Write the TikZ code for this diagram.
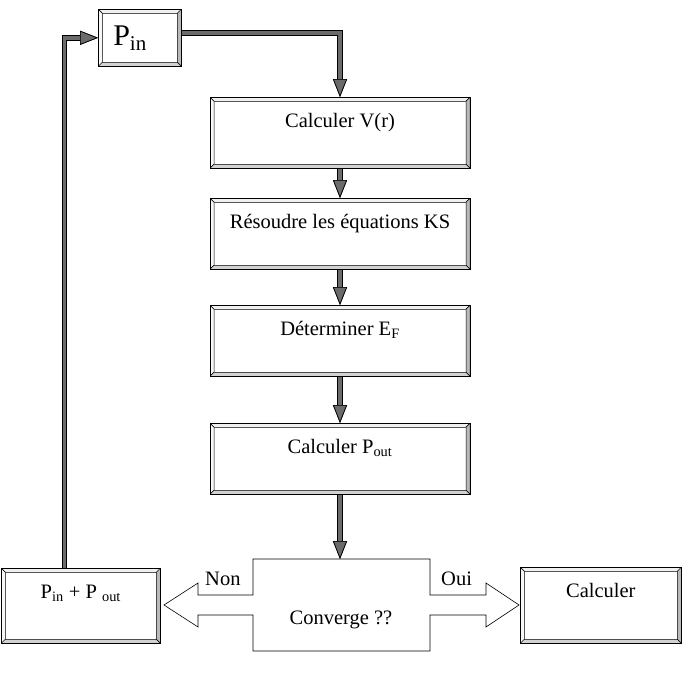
\documentclass[tikz,border=0pt]{standalone}
\usepackage{fontspec}
\setmainfont{Liberation Serif}
\usetikzlibrary{arrows.meta,calc,positioning}
\definecolor{shaftgray}{gray}{0.42}
\tikzset{
  fathead/.tip={Triangle[width=14pt,length=18pt,line width=0.7pt,color=black,fill=shaftgray]},
  fatarrow/.style={draw=shaftgray, line width=3.8pt, -{fathead},
    preaction={draw=black, line width=5.6pt, -{fathead}}},
  bevelbox/.style={draw, line width=0.6pt, fill=white,
    font=\fontsize{20.5}{24}\selectfont,
    path picture={
      \coordinate (nw) at (path picture bounding box.north west);
      \coordinate (ne) at (path picture bounding box.north east);
      \coordinate (sw) at (path picture bounding box.south west);
      \coordinate (se) at (path picture bounding box.south east);
      \filldraw[line width=0.5pt, fill=gray!12] (nw) -- (ne) -- ($(ne)+(-4pt,-4pt)$) -- ($(nw)+(4pt,-4pt)$) -- cycle;
      \filldraw[line width=0.5pt, fill=gray!6] (nw) -- (sw) -- ($(sw)+(4pt,4pt)$) -- ($(nw)+(4pt,-4pt)$) -- cycle;
      \filldraw[line width=0.5pt, fill=gray!55] (ne) -- (se) -- ($(se)+(-4pt,4pt)$) -- ($(ne)+(-4pt,-4pt)$) -- cycle;
      \filldraw[line width=0.5pt, fill=gray!35] (sw) -- (se) -- ($(se)+(-4pt,4pt)$) -- ($(sw)+(4pt,4pt)$) -- cycle;
    }},
  stepbox/.style={bevelbox, anchor=north, minimum width=260pt, inner sep=0pt,
    text height=30pt, text depth=41pt},
  endbox/.style={bevelbox, anchor=north west, inner sep=0pt, text height=30pt}
}
\begin{document}
\begin{tikzpicture}[x=1pt, y=-1pt]
  \useasboundingbox (0,0) rectangle (694,673);
  % input density
  \node[bevelbox, anchor=north west, inner xsep=15pt, inner ysep=0pt, text width=53pt,
        text height=36pt, text depth=21pt, align=left] (pin) at (98,9)
        {\fontsize{30}{32}\selectfont P\textsubscript{in}};
  % SCF steps
  \node[stepbox] (vr) at (340,97) {Calculer V(r)};
  \node[stepbox] (ks) at (340,198) {Résoudre les équations KS};
  \node[stepbox] (ef) at (340,305) {Déterminer E\textsubscript{F}};
  \node[stepbox] (pout) at (340,423) {Calculer P\textsubscript{out}};
  % mixing and end
  \node[endbox, minimum width=159pt, text depth=45pt] (pp) at (1,568)
        {P\textsubscript{in} + P \textsubscript{out}};
  \node[endbox, minimum width=161pt, text depth=46pt] (calc) at (520,567) {Calculer};
  % convergence test
  \draw[line width=0.6pt] (253,559) -- (430,559) -- (430,595) -- (486,595) -- (486,583)
    -- (519,605) -- (486,627) -- (486,615) -- (430,615) -- (430,651) -- (253,651)
    -- (253,615) -- (198,615) -- (198,627) -- (164,605) -- (198,583) -- (198,595)
    -- (253,595) -- cycle;
  \coordinate (convtop) at (340,559);
  \node[anchor=base, font=\fontsize{20.5}{24}\selectfont] (conv) at (341,624) {Converge ??};
  \node[anchor=base west, inner sep=0pt, font=\fontsize{20.5}{24}\selectfont] (non) at (205,585) {Non};
  \node[anchor=base west, inner sep=0pt, font=\fontsize{20.5}{24}\selectfont] (oui) at (441,585) {Oui};
  % connectors
  \draw[fatarrow] ([yshift=5pt]pin.east) -| (vr.north);
  \draw[fatarrow] (vr.south) -- (ks.north);
  \draw[fatarrow] (ks.south) -- (ef.north);
  \draw[fatarrow] (ef.south) -- (pout.north);
  \draw[fatarrow] (pout.south) -- (convtop);
  \draw[fatarrow] ([xshift=63.5pt]pp.north west) |- (pin.west);
\end{tikzpicture}
\end{document}
